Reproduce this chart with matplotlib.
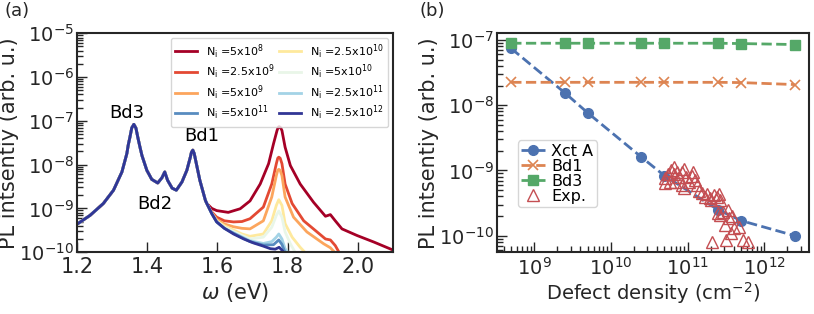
import numpy as np
import matplotlib
matplotlib.use('Agg')
import matplotlib.pyplot as plt
from matplotlib.ticker import LogLocator, NullFormatter, MultipleLocator

plt.rcParams['font.family'] = ['DejaVu Sans']
plt.rcParams['mathtext.fontset'] = 'dejavusans'

# ---------------- Panel (a) data ----------------
# shared part of all spectra (omega < 1.57 eV)
omega_common = [1.199, 1.237, 1.275, 1.304, 1.328, 1.342, 1.346, 1.351, 1.356, 1.362,
                1.368, 1.373, 1.379, 1.385, 1.399, 1.413, 1.430, 1.442, 1.450, 1.458,
                1.471, 1.483, 1.499, 1.513, 1.518, 1.523, 1.526, 1.530, 1.534, 1.538,
                1.550, 1.566, 1.570]
I_common = [4.3e-10, 6.9e-10, 1.29e-9, 2.6e-9, 6.8e-9, 1.78e-8, 2.8e-8, 4.3e-8, 6.9e-8, 8.3e-8,
            6.8e-8, 4.3e-8, 2.6e-8, 1.62e-8, 7.4e-9, 4.6e-9, 3.8e-9, 5.0e-9, 6.8e-9, 4.4e-9,
            2.9e-9, 2.6e-9, 4.0e-9, 7.4e-9, 1.05e-8, 1.48e-8, 1.9e-8, 2.14e-8, 1.8e-8, 1.26e-8,
            4.4e-9, 1.51e-9, 1.29e-9]

Ni_labels = ['5x10$^{8}$', '2.5x10$^{9}$', '5x10$^{9}$', '2.5x10$^{10}$',
             '5x10$^{10}$', '2.5x10$^{11}$', '5x10$^{11}$', '2.5x10$^{12}$']

# tails (omega >= 1.57 eV) for each defect density
tail_omega = {
    '5e8': [1.584, 1.598, 1.631, 1.665, 1.693, 1.722, 1.746, 1.760, 1.770, 1.773, 1.776,
            1.780, 1.784, 1.793, 1.808, 1.836, 1.874, 1.908, 1.922, 1.936, 1.955, 1.998,
            2.046, 2.100],
    '2.5e9': [1.584, 1.598, 1.620, 1.646, 1.670, 1.693, 1.731, 1.755, 1.768, 1.772, 1.775,
              1.779, 1.784, 1.793, 1.813, 1.846, 1.884, 1.908, 1.922, 1.936, 1.950],
    '5e9': [1.584, 1.598, 1.620, 1.646, 1.670, 1.693, 1.731, 1.755, 1.768, 1.772, 1.775,
            1.779, 1.784, 1.793, 1.817, 1.855, 1.903, 1.922, 1.940],
    '2.5e10': [1.584, 1.598, 1.620, 1.646, 1.670, 1.693, 1.731, 1.755, 1.768, 1.775,
               1.784, 1.793, 1.813, 1.836, 1.855],
    '5e10': [1.584, 1.598, 1.620, 1.646, 1.670, 1.693, 1.731, 1.755, 1.768, 1.775,
             1.784, 1.793, 1.808, 1.825],
    '2.5e11': [1.584, 1.598, 1.620, 1.646, 1.693, 1.731, 1.755, 1.768, 1.775, 1.784,
               1.793, 1.805],
    '5e11': [1.584, 1.598, 1.620, 1.646, 1.693, 1.731, 1.760, 1.775, 1.784, 1.795],
    '2.5e12': [1.584, 1.598, 1.620, 1.646, 1.675, 1.703, 1.730, 1.751, 1.765, 1.776,
               1.786, 1.795],
}
tail_I = {
    '5e8': [1.0e-9, 8.9e-10, 8.1e-10, 9.8e-10, 1.48e-9, 3.6e-9, 1.05e-8, 3.0e-8, 6.0e-8, 7.0e-8,
            7.4e-8, 7.0e-8, 6.0e-8, 2.5e-8, 9.5e-9, 3.6e-9, 1.38e-9, 6.6e-10, 7.2e-10, 5.2e-10,
            3.4e-10, 2.4e-10, 1.7e-10, 1.12e-10],
    '2.5e9': [8.3e-10, 6.3e-10, 5.2e-10, 4.9e-10, 5.0e-10, 5.8e-10, 1.07e-9, 3.6e-9, 1.05e-8,
              1.4e-8, 1.48e-8, 1.4e-8, 1.05e-8, 3.6e-9, 1.29e-9, 5.2e-10, 2.9e-10, 2.0e-10,
              1.9e-10, 1.41e-10, 8.9e-11],
    '5e9': [7.9e-10, 5.6e-10, 4.4e-10, 3.8e-10, 3.5e-10, 3.4e-10, 5.2e-10, 1.82e-9, 5.6e-9,
            7.4e-9, 7.8e-9, 7.4e-9, 5.6e-9, 1.82e-9, 6.3e-10, 2.9e-10, 1.55e-10, 1.26e-10, 8.9e-11],
    '2.5e10': [7.7e-10, 5.2e-10, 4.0e-10, 3.2e-10, 2.6e-10, 2.3e-10, 2.6e-10, 5.2e-10, 1.17e-9,
               1.58e-9, 1.17e-9, 4.5e-10, 2.2e-10, 1.29e-10, 8.9e-11],
    '5e10': [7.6e-10, 5.0e-10, 3.7e-10, 2.95e-10, 2.4e-10, 2.0e-10, 2.2e-10, 3.7e-10, 6.9e-10,
             8.7e-10, 6.3e-10, 2.9e-10, 1.55e-10, 8.9e-11],
    '2.5e11': [7.6e-10, 4.9e-10, 3.5e-10, 2.75e-10, 1.82e-10, 1.58e-10, 1.74e-10, 2.2e-10,
               2.6e-10, 2.0e-10, 1.2e-10, 8.9e-11],
    '5e11': [7.6e-10, 4.9e-10, 3.5e-10, 2.7e-10, 1.74e-10, 1.45e-10, 1.48e-10, 1.9e-10,
             1.5e-10, 8.9e-11],
    '2.5e12': [7.6e-10, 4.9e-10, 3.5e-10, 2.6e-10, 2.0e-10, 1.62e-10, 1.38e-10, 1.2e-10,
               1.17e-10, 1.29e-10, 1.07e-10, 7.9e-11],
}
Ni_keys = ['5e8', '2.5e9', '5e9', '2.5e10', '5e10', '2.5e11', '5e11', '2.5e12']

# ---------------- Panel (b) data ----------------
defect_density = [5e8, 2.5e9, 5e9, 2.5e10, 5e10, 2.5e11, 5e11, 2.5e12]
I_XctA = [7.4e-8, 1.55e-8, 7.6e-9, 1.6e-9, 8.3e-10, 2.5e-10, 1.7e-10, 1.0e-10]
I_Bd1 = [2.24e-8, 2.24e-8, 2.24e-8, 2.24e-8, 2.24e-8, 2.24e-8, 2.22e-8, 2.07e-8]
I_Bd3 = [8.9e-8, 8.9e-8, 8.9e-8, 8.9e-8, 8.9e-8, 8.9e-8, 8.8e-8, 8.5e-8]

exp_logN = [10.70, 10.75, 10.79, 10.83, 10.86, 10.89, 10.93, 10.96, 10.98, 11.02,
            11.06, 11.07, 11.10, 11.13, 10.96, 10.84, 10.77, 10.93, 11.15, 11.19,
            11.23, 11.26, 11.30, 11.34, 11.38, 11.41, 11.31, 11.42, 11.40, 11.43,
            11.46, 11.53, 11.54, 11.58, 11.49, 11.61, 11.67, 11.57, 11.32, 11.50,
            11.73, 11.79, 10.71, 10.82]
exp_logI = [-9.19, -9.06, -8.99, -8.94, -9.02, -9.10, -9.03, -8.98, -9.10, -9.17,
            -9.09, -9.03, -9.15, -9.23, -9.27, -9.17, -9.17, -9.22, -9.31, -9.35,
            -9.40, -9.36, -9.42, -9.37, -9.41, -9.36, -9.46, -9.45, -9.65, -9.69,
            -9.64, -9.60, -9.73, -9.70, -9.83, -9.88, -9.86, -9.96, -10.10, -10.06,
            -10.06, -10.10, -9.11, -9.05]
exp_N = 10.0 ** np.array(exp_logN)
exp_I = 10.0 ** np.array(exp_logI)

a_yticks = [1e-10, 1e-9, 1e-8, 1e-7, 1e-6, 1e-5]
b_xticks = [1e9, 1e10, 1e11, 1e12]
b_yticks = [1e-10, 1e-9, 1e-8, 1e-7]

# ---------------- Figure ----------------
fig = plt.figure(figsize=(8.14, 3.14), dpi=100)
ax1 = fig.add_axes([0.0946, 0.197, 0.388, 0.697])
ax2 = fig.add_axes([0.6106, 0.197, 0.383, 0.697])

txtc = '#262626'
cmap = plt.get_cmap('RdYlBu')
colors = [cmap(v) for v in np.linspace(0, 1, 8)]

lines = {}
for k, lab, c in zip(Ni_keys, Ni_labels, colors):
    x = list(omega_common) + tail_omega[k]
    y = list(I_common) + tail_I[k]
    ln, = ax1.plot(x, y, color=c, lw=2, label='N$_{\\rm i}$ =' + lab)
    lines[k] = ln

ax1.set_yscale('log')
ax1.set_xlim(1.2, 2.1)
ax1.set_ylim(1e-10, 1e-5)
ax1.xaxis.set_major_locator(MultipleLocator(0.2))
ax1.set_yticks(a_yticks)
ax1.set_xlabel(r'$\omega$ (eV)', fontsize=15, color=txtc, labelpad=3)
ax1.set_ylabel('PL intsentiy (arb. u.)', fontsize=15, color=txtc, labelpad=0)
ax1.text(1.342, 10**-6.83, 'Bd3', fontsize=13, ha='center', va='center', color='black')
ax1.text(1.422, 10**-8.89, 'Bd2', fontsize=13, ha='center', va='center', color='black')
ax1.text(1.555, 10**-7.35, 'Bd1', fontsize=13, ha='center', va='center', color='black')

order = ['5e8', '2.5e9', '5e9', '5e11', '2.5e10', '5e10', '2.5e11', '2.5e12']
ax1.legend([lines[k] for k in order], [lines[k].get_label() for k in order],
           loc='upper right', ncol=2, fontsize=8, columnspacing=0.4,
           labelspacing=0.2, handlelength=2.0, borderaxespad=0.4, framealpha=0.8)

ax2.plot(defect_density, I_XctA, '--o', color='#4c72b0', lw=2, ms=7, label='Xct A')
ax2.plot(defect_density, I_Bd1, '--x', color='#dd8452', lw=2, ms=7, mew=1.2, label='Bd1')
ax2.plot(defect_density, I_Bd3, '--s', color='#55a868', lw=2, ms=7, label='Bd3')
ax2.plot(exp_N, exp_I, '^', ls='none', mfc='none', mec='#c44e52', ms=8, mew=1.0, label='Exp.')
ax2.set_xscale('log')
ax2.set_yscale('log')
ax2.set_xticks(b_xticks)
ax2.set_yticks(b_yticks)
ax2.set_xlabel('Defect density (cm$^{-2}$)', fontsize=14, color=txtc, labelpad=1)
ax2.set_ylabel('PL intsentiy (arb. u.)', fontsize=15, color=txtc, labelpad=0)
ax2.legend(loc='upper left', bbox_to_anchor=(0.067, 0.511), borderaxespad=0,
           fontsize=11.5, handlelength=1.5, handletextpad=0.4, borderpad=0.2,
           labelspacing=0.0, framealpha=0.8)

for ax in (ax1, ax2):
    for s in ax.spines.values():
        s.set_linewidth(1.5)
        s.set_color(txtc)
    ax.tick_params(which='both', direction='in', colors=txtc, labelsize=14,
                   top=False, right=False, width=1.0)
    ax.tick_params(which='major', length=7)
    ax.tick_params(which='minor', length=4)
    ax.tick_params(axis='y', which='both', pad=2)
    ax.yaxis.set_minor_locator(LogLocator(base=10, subs=np.arange(2, 10), numticks=20))
    ax.yaxis.set_minor_formatter(NullFormatter())
ax1.tick_params(axis='x', which='major', labelsize=15)
ax1.tick_params(axis='x', which='minor', bottom=False)
ax2.xaxis.set_minor_locator(LogLocator(base=10, subs=np.arange(2, 10), numticks=20))
ax2.xaxis.set_minor_formatter(NullFormatter())

fig.text(0.006, 0.995, '(a)', fontsize=13, va='top', ha='left', color=txtc)
fig.text(0.515, 0.995, '(b)', fontsize=13, va='top', ha='left', color=txtc)

fig.savefig('out.png', dpi=100)
